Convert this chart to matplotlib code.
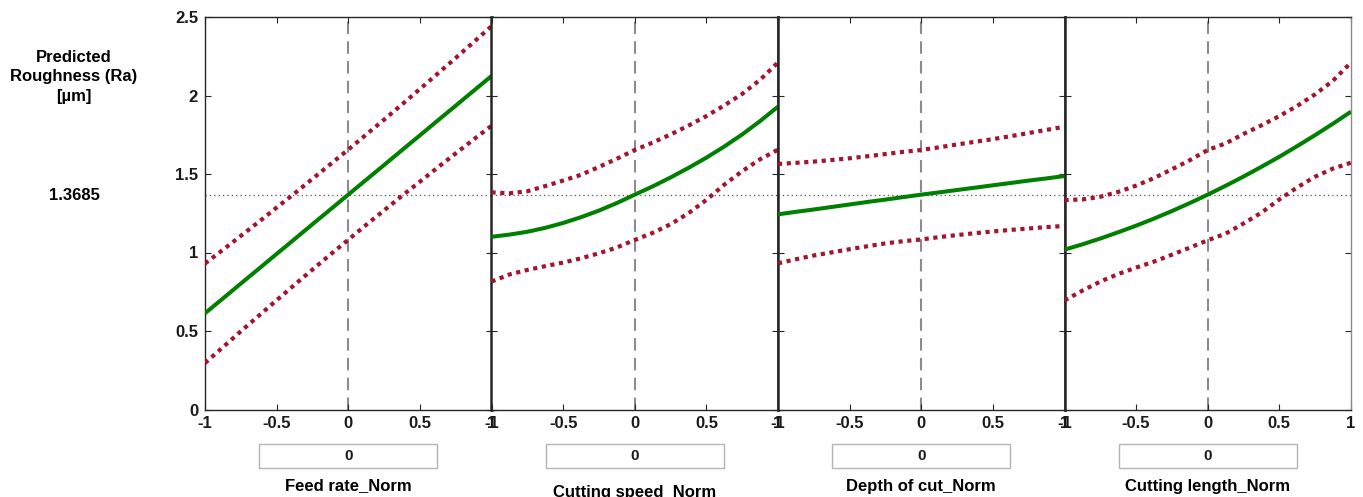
import matplotlib
matplotlib.use("Agg")
import matplotlib.pyplot as plt
from matplotlib.patches import Rectangle

plt.rcParams['font.family'] = ['Liberation Sans', 'DejaVu Sans']
plt.rcParams['font.weight'] = 'bold'

# ---- data ----
x_levels = [-1, -0.875, -0.75, -0.625, -0.5, -0.375, -0.25, -0.125, 0,
            0.125, 0.25, 0.375, 0.5, 0.625, 0.75, 0.875, 1]
factor_names = ["Feed rate_Norm", "Cutting speed_Norm", "Depth of cut_Norm", "Cutting length_Norm"]
current_values = ["0", "0", "0", "0"]
y_response_label = "Predicted\nRoughness (Ra)\n[\u00b5m]"
y_current = 1.3685

feed_pred = [0.613, 0.707, 0.802, 0.896, 0.991, 1.085, 1.180, 1.274, 1.3685,
             1.463, 1.557, 1.652, 1.746, 1.841, 1.935, 2.030, 2.124]
feed_upper = [0.930, 1.017, 1.106, 1.195, 1.286, 1.376, 1.469, 1.562, 1.655,
              1.751, 1.846, 1.943, 2.041, 2.140, 2.239, 2.340, 2.441]
feed_lower = [0.296, 0.397, 0.498, 0.597, 0.696, 0.794, 0.891, 0.987, 1.081,
              1.176, 1.268, 1.361, 1.451, 1.542, 1.631, 1.720, 1.807]

speed_pred = [1.100, 1.114, 1.132, 1.157, 1.188, 1.225, 1.267, 1.315, 1.3685,
              1.421, 1.478, 1.539, 1.604, 1.675, 1.752, 1.837, 1.929]
speed_upper = [1.383, 1.377, 1.390, 1.423, 1.458, 1.495, 1.545, 1.597, 1.653,
               1.700, 1.752, 1.808, 1.869, 1.937, 2.010, 2.100, 2.210]
speed_lower = [0.815, 0.860, 0.889, 0.913, 0.936, 0.963, 0.995, 1.032, 1.080,
               1.125, 1.180, 1.250, 1.335, 1.432, 1.518, 1.594, 1.655]

depth_pred = [1.243, 1.259, 1.274, 1.290, 1.306, 1.322, 1.337, 1.353, 1.3685,
              1.383, 1.398, 1.413, 1.428, 1.443, 1.458, 1.472, 1.487]
depth_upper = [1.564, 1.571, 1.579, 1.589, 1.600, 1.613, 1.627, 1.641, 1.653,
               1.670, 1.688, 1.705, 1.722, 1.741, 1.761, 1.781, 1.801]
depth_lower = [0.931, 0.957, 0.981, 1.001, 1.021, 1.040, 1.058, 1.072, 1.083,
               1.098, 1.111, 1.123, 1.134, 1.144, 1.153, 1.162, 1.169]

length_pred = [1.018, 1.052, 1.089, 1.129, 1.171, 1.216, 1.264, 1.315, 1.3685,
               1.425, 1.484, 1.546, 1.610, 1.678, 1.748, 1.821, 1.897]
length_upper = [1.334, 1.338, 1.355, 1.386, 1.426, 1.474, 1.530, 1.588, 1.653,
                1.695, 1.755, 1.810, 1.869, 1.934, 2.008, 2.095, 2.210]
length_lower = [0.695, 0.757, 0.815, 0.863, 0.904, 0.942, 0.986, 1.031, 1.078,
                1.120, 1.185, 1.254, 1.338, 1.415, 1.483, 1.535, 1.572]

preds = [feed_pred, speed_pred, depth_pred, length_pred]
uppers = [feed_upper, speed_upper, depth_upper, length_upper]
lowers = [feed_lower, speed_lower, depth_lower, length_lower]

x_ticks = [-1, -0.5, 0, 0.5, 1]
x_ticklabels = ["-1", "-0.5", "0", "0.5", "1"]
y_ticks = [0, 0.5, 1, 1.5, 2, 2.5]
y_ticklabels = ["0", "0.5", "1", "1.5", "2", "2.5"]

# ---- figure ----
W, H = 1363, 497
fig = plt.figure(figsize=(W / 100, H / 100), dpi=100)

ax_left_px = 205
ax_w_px = 286.5
ax_top_px = 17
ax_bot_px = 409.5

green = '#008000'
red = '#A2142F'
spine_col = '#262626'
label_y_px = [486, 492, 487, 486]

for i in range(4):
    left = (ax_left_px + i * ax_w_px) / W
    ax = fig.add_axes([left, 1 - ax_bot_px / H, ax_w_px / W, (ax_bot_px - ax_top_px) / H])
    ax.set_xlim(-1, 1)
    ax.set_ylim(0, 2.5)
    ax.axhline(y_current, color='#505050', lw=0.9, ls=(0, (1, 2.5)), zorder=1)
    ax.axvline(0, color='#8c8c8c', lw=1.5, ls=(0, (6, 3.5)), zorder=1)
    ax.plot(x_levels, uppers[i], color=red, lw=3.0, ls=(0, (1, 1.1)), zorder=3)
    ax.plot(x_levels, lowers[i], color=red, lw=3.0, ls=(0, (1, 1.1)), zorder=3)
    ax.plot(x_levels, preds[i], color=green, lw=2.9, zorder=4, solid_capstyle='butt')

    ax.set_xticks(x_ticks)
    ax.set_xticklabels(x_ticklabels, fontsize=12, fontweight='bold')
    ax.set_yticks(y_ticks)
    if i == 0:
        ax.set_yticklabels(y_ticklabels, fontsize=12, fontweight='bold')
    else:
        ax.set_yticklabels([])
    ax.tick_params(direction='in', length=4, width=0.8, color=spine_col,
                   top=True, right=True, pad=5, labelcolor='#1a1a1a')
    for side, sp in ax.spines.items():
        sp.set_color(spine_col)
        sp.set_linewidth(1.0)
    if i > 0:
        ax.spines['left'].set_linewidth(1.8)
    if i < 3:
        ax.spines['right'].set_linewidth(1.8)
    else:
        ax.spines['right'].set_color('#8a8a8a')

    # current-value box and factor label
    cx = (ax_left_px + i * ax_w_px + ax_w_px / 2) / W
    bw = 178 / W
    bh = 24 / H
    by = 1 - 467.5 / H
    fig.patches.append(Rectangle((cx - bw / 2, by), bw, bh, transform=fig.transFigure,
                                 facecolor='white', edgecolor='#b4b4b4', lw=1.0))
    fig.text(cx, 1 - 455.5 / H, current_values[i], ha='center', va='center',
             fontsize=11, fontweight='bold', color='#1a1a1a')
    fig.text(cx, 1 - label_y_px[i] / H, factor_names[i], ha='center', va='center',
             fontsize=12, fontweight='bold', color='black')

fig.text(74 / W, 1 - 77 / H, y_response_label, ha='center', va='center',
         fontsize=12, fontweight='bold', linespacing=1.4)
fig.text(74 / W, 1 - 195 / H, f"{y_current:.4f}", ha='center', va='center',
         fontsize=12, fontweight='bold')

fig.savefig('out.png', dpi=100)
